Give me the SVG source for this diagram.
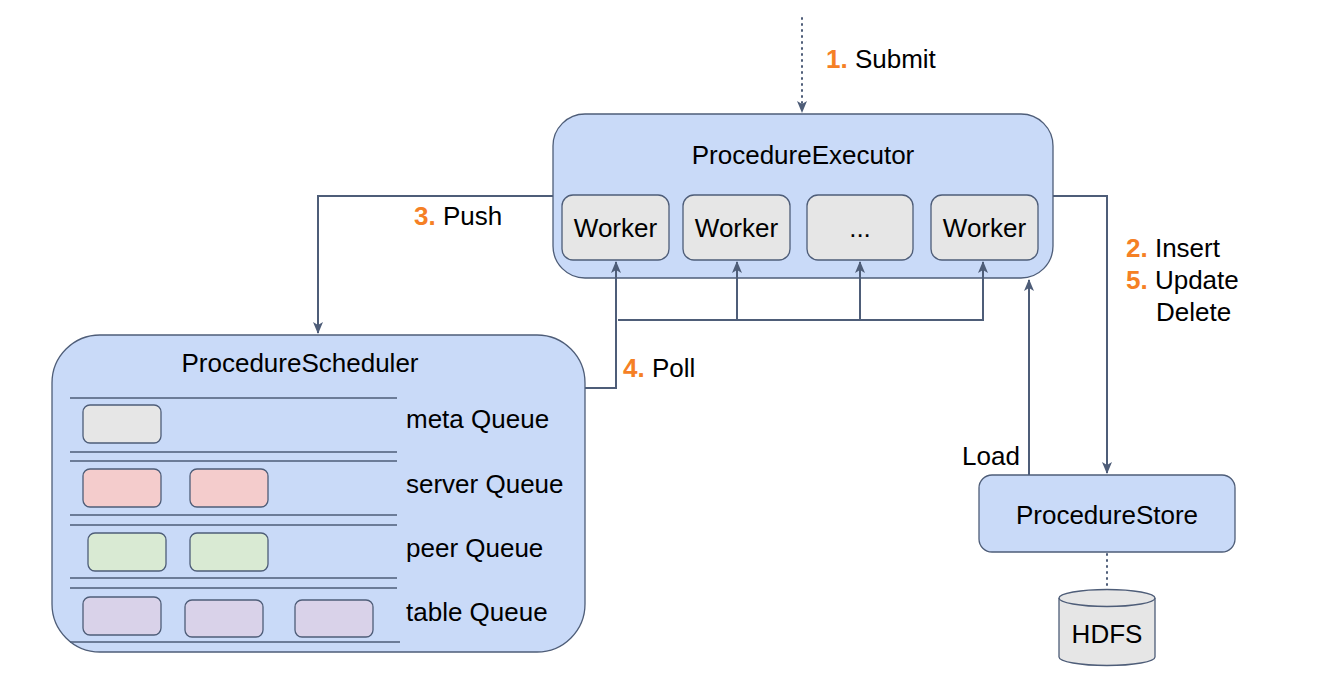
<svg xmlns="http://www.w3.org/2000/svg" width="1317" height="696" viewBox="0 0 1317 696">
<defs>
<style>
text{font-family:"Liberation Sans",Arial,sans-serif;font-size:26px;fill:#000}
.num{fill:#f58025;font-weight:bold}
.blue{fill:#c9daf8;stroke:#4e5d78;stroke-width:1.3}
.gray{fill:#e6e6e6;stroke:#4e5d78;stroke-width:1.3}
.red{fill:#f4cccc;stroke:#4e5d78;stroke-width:1.3}
.green{fill:#d9ead3;stroke:#4e5d78;stroke-width:1.3}
.purple{fill:#d9d2e9;stroke:#4e5d78;stroke-width:1.3}
.sep{stroke:#4e5d78;stroke-width:1.3;fill:none}
.conn{stroke:#4e5d78;stroke-width:2;fill:none}
.dot{stroke:#4e5d78;stroke-width:2;fill:none;stroke-dasharray:1 5;stroke-linecap:round}
.mid{text-anchor:middle}
</style>
<marker id="arr" viewBox="0 0 12 10" refX="11" refY="5" markerWidth="12" markerHeight="10" markerUnits="userSpaceOnUse" orient="auto">
<path d="M0,0 L12,5 L0,10 L3,5 Z" fill="#4e5d78"/>
</marker>
</defs>

<g id="executor">
<rect class="blue" x="553" y="114" width="500" height="164" rx="32"/>
<text class="mid" x="803" y="164">ProcedureExecutor</text>
</g>
<g id="worker1">
<rect class="gray" x="562" y="195" width="107" height="65" rx="11"/>
<text class="mid" x="615.5" y="237">Worker</text>
</g>
<g id="worker2">
<rect class="gray" x="683" y="195" width="107" height="65" rx="11"/>
<text class="mid" x="736.5" y="237">Worker</text>
</g>
<g id="worker3">
<rect class="gray" x="807" y="195" width="106" height="65" rx="11"/>
<text class="mid" x="860" y="237">...</text>
</g>
<g id="worker4">
<rect class="gray" x="931" y="195" width="107" height="65" rx="11"/>
<text class="mid" x="984.5" y="237">Worker</text>
</g>

<g id="scheduler">
<rect class="blue" x="52" y="335" width="533" height="317" rx="48"/>
<text class="mid" x="300" y="372">ProcedureScheduler</text>
<path class="sep" d="M70,398 H397 M70,452 H397 M70,461 H397 M70,515 H397 M70,525 H397 M70,578 H397 M70,588 H397 M70,642 H400"/>
<rect class="gray" x="83" y="405" width="78" height="38" rx="7"/>
<rect class="red" x="83" y="469" width="78" height="38" rx="7"/>
<rect class="red" x="190" y="469" width="78" height="38" rx="7"/>
<rect class="green" x="88" y="533" width="78" height="38" rx="7"/>
<rect class="green" x="190" y="533" width="78" height="38" rx="7"/>
<rect class="purple" x="83" y="597" width="78" height="38" rx="7"/>
<rect class="purple" x="185" y="600" width="78" height="37" rx="7"/>
<rect class="purple" x="295" y="600" width="78" height="37" rx="7"/>
<text x="406" y="428">meta Queue</text>
<text x="406" y="493">server Queue</text>
<text x="406" y="557">peer Queue</text>
<text x="406" y="621">table Queue</text>
</g>

<g id="store">
<rect class="blue" x="979" y="475" width="256" height="77" rx="13"/>
<text class="mid" x="1107" y="524">ProcedureStore</text>
</g>

<g id="hdfs">
<path class="gray" d="M1059,598 A48,8.5 0 0 1 1155,598 V657 A48,8.5 0 0 1 1059,657 Z"/>
<path class="sep" d="M1059,598 A48,8.5 0 0 0 1155,598"/>
<text class="mid" x="1107" y="643">HDFS</text>
</g>

<g id="connectors">
<path class="dot" d="M802,18 V112" marker-end="url(#arr)"/>
<path class="conn" d="M553,196 H318 V333" marker-end="url(#arr)"/>
<path class="conn" d="M585,388 H616 V262" marker-end="url(#arr)"/>
<path class="conn" d="M618,320 H983 V262" marker-end="url(#arr)"/>
<path class="conn" d="M737,320 V262" marker-end="url(#arr)"/>
<path class="conn" d="M860,320 V262" marker-end="url(#arr)"/>
<path class="conn" d="M1053,196 H1107 V473" marker-end="url(#arr)"/>
<path class="conn" d="M1029,475 V280" marker-end="url(#arr)"/>
<path class="dot" d="M1107,554 V588"/>
</g>

<g id="labels">
<text x="826" y="68"><tspan class="num">1.</tspan> Submit</text>
<text x="414" y="225"><tspan class="num">3.</tspan> Push</text>
<text x="623" y="377"><tspan class="num">4.</tspan> Poll</text>
<text x="1126" y="257"><tspan class="num">2.</tspan> Insert</text>
<text x="1126" y="289"><tspan class="num">5.</tspan> Update</text>
<text x="1156" y="321">Delete</text>
<text x="962" y="465">Load</text>
</g>
</svg>
